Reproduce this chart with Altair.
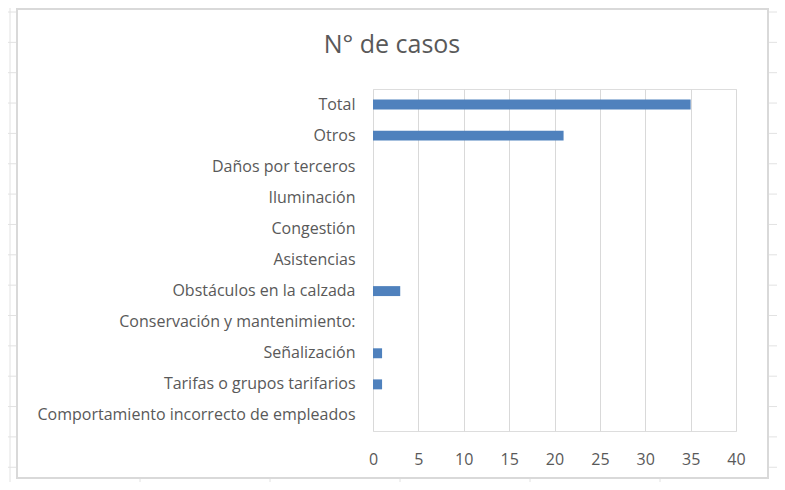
import altair as alt
import pandas as pd

categories = [
    "Total",
    "Otros",
    "Daños por terceros",
    "Iluminación",
    "Congestión",
    "Asistencias",
    "Obstáculos en la calzada",
    "Conservación y mantenimiento:",
    "Señalización",
    "Tarifas o grupos tarifarios",
    "Comportamiento incorrecto de empleados",
]
casos = [35, 21, 0, 0, 0, 0, 3, 0, 1, 1, 0]
x_ticks = [0, 5, 10, 15, 20, 25, 30, 35, 40]
title_text = ["N° de casos"]

df = pd.DataFrame({"cat": categories, "casos": casos})

FONT = "Open Sans"
GREY = "#595959"

# --- spreadsheet cell grid around the chart (decoration, pixel space relative to plot origin) ---
OX, OY = 373, 89  # page position of plot origin
sheet_rows = []
for k in range(16):
    yp = 12 + 30.35 * k
    sheet_rows.append({"x": 8 - OX, "x2": 17 - OX, "y": yp - OY, "y2": yp - OY})
    sheet_rows.append({"x": 768 - OX, "x2": 777 - OX, "y": yp - OY, "y2": yp - OY})
sheet_rows.append({"x": 10 - OX, "x2": 10 - OX, "y": 8 - OY, "y2": 482 - OY})
for xp in [140, 270, 400, 530, 660]:
    sheet_rows.append({"x": xp - OX, "x2": xp - OX, "y": 478 - OY, "y2": 482 - OY})
sheet = alt.Chart(pd.DataFrame(sheet_rows)).mark_rule(color="#e2e2e2", strokeWidth=1).encode(
    x=alt.X("x:Q", scale=None),
    x2="x2:Q",
    y=alt.Y("y:Q", scale=None),
    y2="y2:Q",
)

frame = alt.Chart(df).mark_rect(fill="white", fillOpacity=0, stroke="#d9d9d9", strokeWidth=1.5).encode(
    x=alt.value(17 - OX), x2=alt.value(768 - OX), y=alt.value(9 - OY), y2=alt.value(478 - OY)
)

title = alt.Chart(pd.DataFrame({"t": title_text})).mark_text(
    font=FONT, fontSize=25, color=GREY, align="center", baseline="alphabetic"
).encode(text="t:N", x=alt.value(392 - OX), y=alt.value(53 - OY))

bars = alt.Chart(df).mark_bar(color="#4f81bd", strokeWidth=0).encode(
    x=alt.X(
        "casos:Q",
        scale=alt.Scale(domain=[0, 40], nice=False),
        axis=alt.Axis(
            values=x_ticks,
            title=None,
            domain=False,
            ticks=False,
            grid=True,
            gridColor="#d9d9d9",
            gridWidth=1,
            labelColor=GREY,
            labelFont=FONT,
            labelFontSize=16,
            labelPadding=20,
            labelFlush=False,
        ),
    ),
    y=alt.Y(
        "cat:N",
        sort=categories,
        scale=alt.Scale(paddingInner=0.68, paddingOuter=0.34),
        axis=alt.Axis(
            title=None,
            domain=False,
            ticks=False,
            grid=False,
            labelColor=GREY,
            labelFont=FONT,
            labelFontSize=16,
            labelPadding=18,
            labelLimit=400,
        ),
    ),
)

chart = alt.layer(sheet, frame, bars, title).properties(
    width=363,
    height=342,
    autosize=alt.AutoSizeParams(type="none"),
    padding={"left": 365, "top": 81, "right": 41, "bottom": 51},
).configure_view(stroke=None).configure(background="white")

chart.save("out.html", embed_options={"renderer": "svg", "actions": False})
